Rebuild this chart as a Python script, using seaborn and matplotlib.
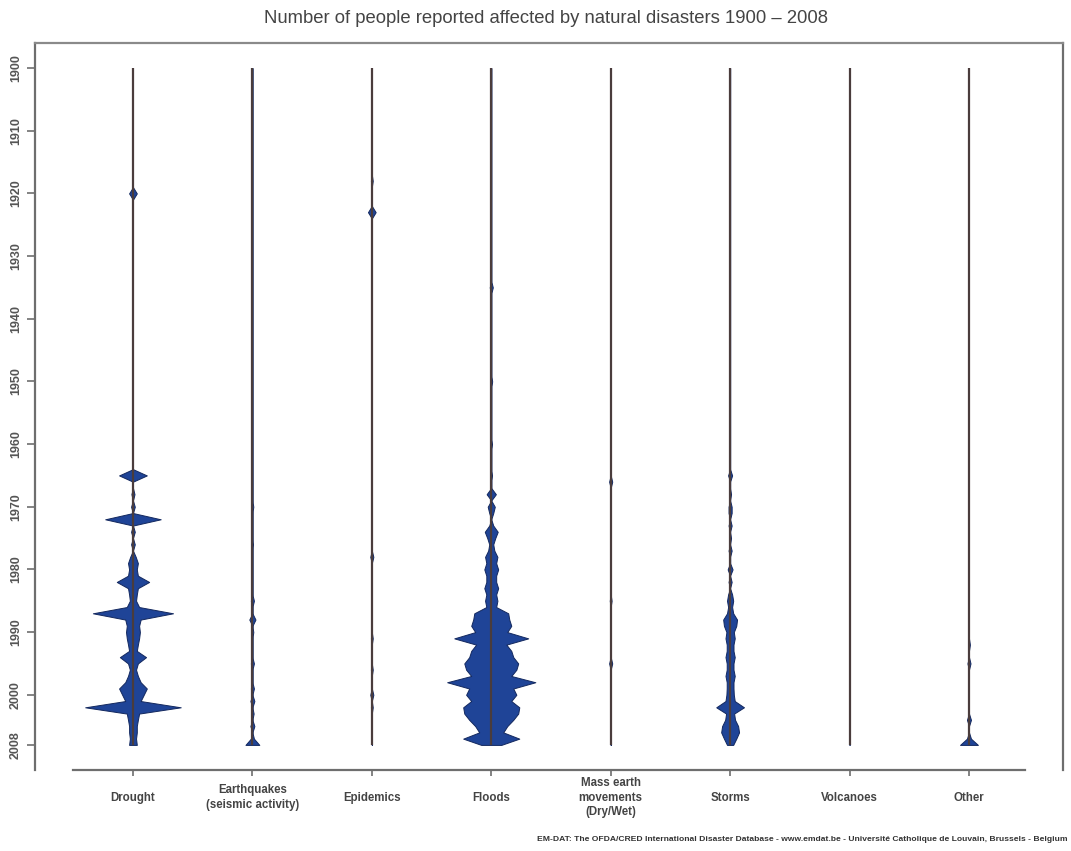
import numpy as np
import pandas as pd
import matplotlib
matplotlib.use("Agg")
import matplotlib.pyplot as plt
import seaborn as sns

# people affected per year, millions (years not listed = 0)
categories = ["Drought", "Earthquakes\n(seismic activity)", "Epidemics", "Floods",
              "Mass earth\nmovements\n(Dry/Wet)", "Storms", "Volcanoes", "Other"]

drought = {1920: 25, 1965: 90, 1968: 10, 1970: 12, 1972: 180, 1974: 12, 1976: 12,
           1978: 18, 1979: 32, 1980: 25, 1981: 32, 1982: 105, 1983: 32, 1984: 25,
           1985: 20, 1986: 40, 1987: 260, 1988: 50, 1989: 40, 1990: 45, 1991: 40,
           1992: 32, 1993: 25, 1994: 85, 1995: 32, 1996: 20, 1997: 32, 1998: 50,
           1999: 90, 2000: 70, 2001: 50, 2002: 310, 2003: 40, 2004: 32, 2005: 25,
           2006: 25, 2007: 20, 2008: 25}
earthquakes = {1970: 6, 1976: 4, 1985: 10, 1988: 20, 1990: 6, 1995: 10, 1999: 10,
               2001: 13, 2003: 8, 2005: 13, 2007: 10, 2008: 45}
epidemics = {1918: 6, 1923: 25, 1978: 10, 1991: 6, 1996: 6, 2000: 10, 2002: 6}
floods = {1935: 10, 1950: 6, 1960: 5, 1965: 5, 1968: 30, 1970: 23, 1971: 13,
          1973: 13, 1974: 42, 1975: 26, 1976: 13, 1977: 20, 1978: 40, 1979: 32,
          1980: 45, 1981: 32, 1982: 32, 1983: 45, 1984: 32, 1985: 40, 1986: 32,
          1987: 110, 1988: 117, 1989: 130, 1990: 104, 1991: 240, 1992: 98,
          1993: 130, 1994: 143, 1995: 175, 1996: 163, 1997: 130, 1998: 286,
          1999: 143, 2000: 163, 2001: 130, 2002: 182, 2003: 175, 2004: 143,
          2005: 104, 2006: 78, 2007: 182, 2008: 65}
mass_earth = {1966: 10, 1985: 6, 1995: 10}
storms = {1965: 13, 1968: 6, 1970: 10, 1971: 10, 1973: 10, 1975: 6, 1977: 10,
          1980: 16, 1982: 10, 1984: 13, 1985: 20, 1986: 13, 1987: 20, 1988: 45,
          1989: 40, 1990: 24, 1991: 30, 1992: 22, 1993: 22, 1994: 30, 1995: 22,
          1996: 22, 1997: 30, 1998: 22, 1999: 22, 2000: 24, 2001: 30, 2002: 90,
          2003: 26, 2004: 32, 2005: 52, 2006: 58, 2007: 40, 2008: 20}
volcanoes = {1985: 3, 1991: 3}
other = {1992: 6, 1995: 10, 2004: 13, 2007: 13, 2008: 58}

series = [drought, earthquakes, epidemics, floods, mass_earth, storms, volcanoes, other]
years = np.arange(1900, 2009)
yticks = [1900, 1910, 1920, 1930, 1940, 1950, 1960, 1970, 1980, 1990, 2000, 2008]
footer = ("EM-DAT: The OFDA/CRED International Disaster Database - www.emdat.be - "
          "Université Catholique de Louvain, Brussels - Belgium")

sns.set_theme(style="white")
plt.rcParams['font.family'] = ['Liberation Sans', 'DejaVu Sans']

fig = plt.figure(figsize=(10.71, 8.51), dpi=100)
ax = fig.add_axes([0.0327, 0.0952, 0.9598, 0.8543])

scale = 0.40 / 310  # half width (category units) per million people
gray = "#6e6e6e"

for i, d in enumerate(series):
    vals = pd.Series(d).reindex(years, fill_value=0).to_numpy(dtype=float)
    w = vals * scale
    ax.fill_betweenx(years, i - w, i + w, color="#1f4497", edgecolor="#13285e",
                     linewidth=0.7, zorder=2)
    ax.vlines(i, 1900, 2008, color="#4a3c3c", linewidth=1.6, zorder=3)

ax.set_xlim(-0.82, 7.787)
ax.set_ylim(2012, 1896)
ax.set_xticks(range(len(categories)))
ax.set_xticklabels(categories, fontsize=8.3, fontweight="bold", color="#444444",
                   va="center", linespacing=1.3)
ax.set_yticks(yticks)
ax.set_yticklabels([str(t) for t in yticks], rotation=90, va="center",
                   fontsize=9, fontweight="bold", color="#555555")
ax.tick_params(axis="x", length=4, width=1.2, color=gray, pad=16, bottom=True)
ax.tick_params(axis="y", length=5.8, width=1.2, color=gray, pad=3.6, left=True)

for side in ["left", "top", "right", "bottom"]:
    ax.spines[side].set_color(gray)
    ax.spines[side].set_linewidth(1.6)
ax.spines["bottom"].set_bounds(-0.5, 7.47)
ax.spines["top"].set_color("#8a8a8a")

fig.text(0.51, 0.978, "Number of people reported affected by natural disasters 1900 \u2013 2008",
         ha="center", va="center", fontsize=13.3, color="#444444")
fig.text(0.997, 0.013, footer, ha="right", va="center", fontsize=6.1,
         fontweight="bold", color="#333333")

fig.savefig("out.png", dpi=100, facecolor="white")
